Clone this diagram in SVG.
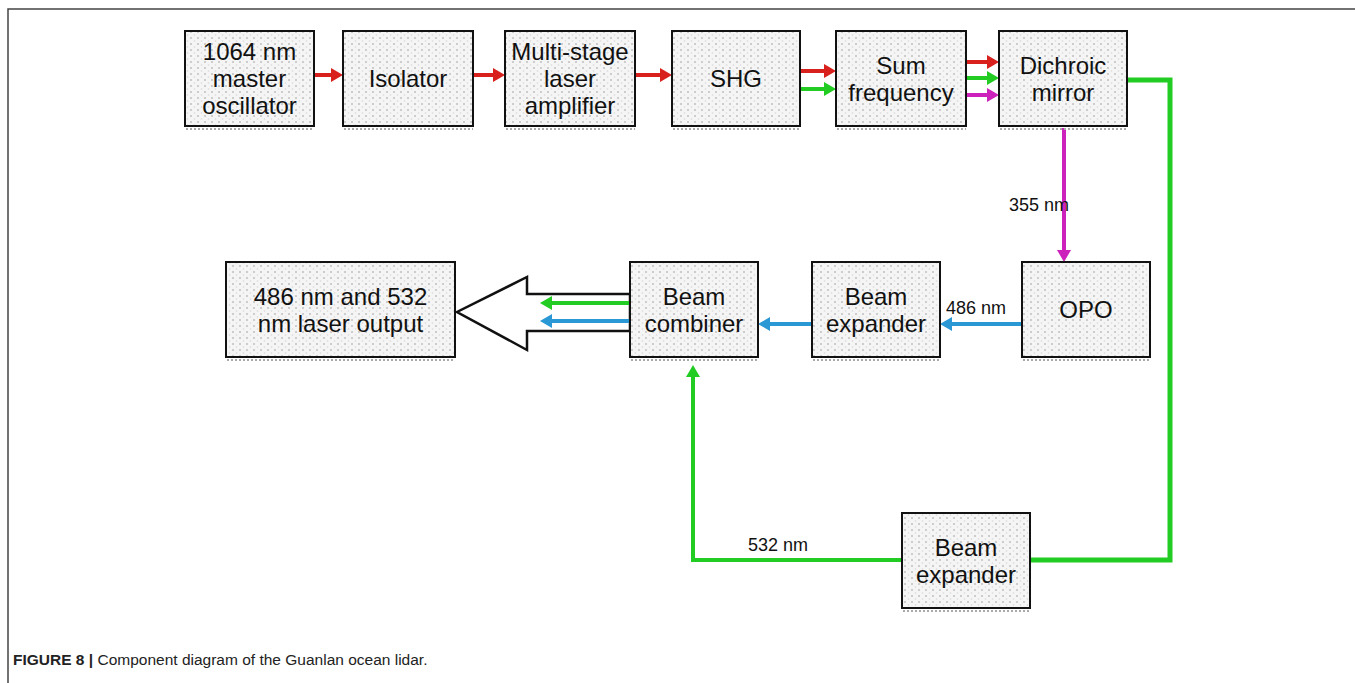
<svg xmlns="http://www.w3.org/2000/svg" width="1355" height="683" viewBox="0 0 1355 683">
<defs>
<pattern id="dots" width="7" height="6" patternUnits="userSpaceOnUse">
<rect width="7" height="6" fill="#f5f5f5"/>
<circle cx="2" cy="2" r="1.1" fill="#c4c4c4"/>
<circle cx="5.5" cy="5" r="0.8" fill="#d8d8d8"/>
</pattern>
<marker id="ar" markerUnits="userSpaceOnUse" markerWidth="12" markerHeight="14" refX="6" refY="7" orient="auto"><path d="M0,0 L12,7 L0,14 z" fill="#d8201c"/></marker>
<marker id="ag" markerUnits="userSpaceOnUse" markerWidth="12" markerHeight="14" refX="6" refY="7" orient="auto"><path d="M0,0 L12,7 L0,14 z" fill="#22cc22"/></marker>
<marker id="am" markerUnits="userSpaceOnUse" markerWidth="12" markerHeight="14" refX="6" refY="7" orient="auto"><path d="M0,0 L12,7 L0,14 z" fill="#cc22bb"/></marker>
<marker id="ab" markerUnits="userSpaceOnUse" markerWidth="12" markerHeight="14" refX="6" refY="7" orient="auto"><path d="M0,0 L12,7 L0,14 z" fill="#2a98d4"/></marker>
</defs>
<style>
.box{fill:url(#dots);stroke:#111;stroke-width:2}
.sh{stroke:#aaa;stroke-width:2;stroke-dasharray:2 2}
.t{font-family:"Liberation Sans",Arial,sans-serif;font-size:24px;fill:#111;text-anchor:middle}
.lb{font-family:"Liberation Sans",Arial,sans-serif;font-size:18px;fill:#111}
.r{stroke:#d8201c;stroke-width:4;fill:none;marker-end:url(#ar)}
.g{stroke:#22cc22;stroke-width:4;fill:none;marker-end:url(#ag)}
.gl{stroke:#22cc22;stroke-width:5;fill:none}
.m{stroke:#cc22bb;stroke-width:4;fill:none;marker-end:url(#am)}
.b{stroke:#2a98d4;stroke-width:4;fill:none;marker-end:url(#ab)}
</style>
<rect width="1355" height="683" fill="#fff"/>
<path d="M8,683 V9 H1355" fill="none" stroke="#444" stroke-width="1.5"/>

<g id="connectors">
<line class="r" x1="314" y1="75" x2="337" y2="75"/>
<line class="r" x1="473" y1="75" x2="499" y2="75"/>
<line class="r" x1="635" y1="75" x2="666" y2="75"/>
<line class="r" x1="800" y1="71" x2="830" y2="71"/>
<line class="g" x1="800" y1="89" x2="830" y2="89"/>
<line class="r" x1="966" y1="62" x2="993" y2="62"/>
<line class="g" x1="966" y1="78" x2="993" y2="78"/>
<line class="m" x1="966" y1="95" x2="993" y2="95"/>
<line class="m" x1="1064" y1="128" x2="1064" y2="256"/>
<path class="gl" d="M1127,80 H1170 V560 H1030"/>
<path class="g" d="M902,560 H693 V371"/>
<line class="b" x1="1022" y1="324" x2="946" y2="324"/>
<line class="b" x1="812" y1="324" x2="764" y2="324"/>
<polygon points="630,294 527,294 527,277 457,312 527,350 527,331 630,331" fill="#fff" stroke="#111" stroke-width="2.5" stroke-linejoin="miter"/>
<line class="g" x1="630" y1="303" x2="546" y2="303"/>
<line class="b" x1="630" y1="321" x2="546" y2="321"/>
<text class="lb" x="1009" y="211" font-size="17">355 nm</text>
<text class="lb" x="946" y="314">486 nm</text>
<text class="lb" x="748" y="551">532 nm</text>
</g>

<g id="n1"><rect class="box" x="185" y="31" width="129" height="95"/><line class="sh" x1="186" y1="129" x2="314" y2="129"/>
<text class="t"><tspan x="249.5" y="60">1064 nm</tspan><tspan x="249.5" y="87">master</tspan><tspan x="249.5" y="114">oscillator</tspan></text></g>
<g id="n2"><rect class="box" x="343" y="31" width="130" height="95"/><line class="sh" x1="344" y1="129" x2="473" y2="129"/>
<text class="t" x="408" y="87">Isolator</text></g>
<g id="n3"><rect class="box" x="505" y="31" width="130" height="95"/><line class="sh" x1="506" y1="129" x2="635" y2="129"/>
<text class="t"><tspan x="570" y="60">Multi-stage</tspan><tspan x="570" y="87">laser</tspan><tspan x="570" y="114">amplifier</tspan></text></g>
<g id="n4"><rect class="box" x="672" y="31" width="128" height="95"/><line class="sh" x1="673" y1="129" x2="800" y2="129"/>
<text class="t" x="736" y="87">SHG</text></g>
<g id="n5"><rect class="box" x="836" y="31" width="130" height="95"/><line class="sh" x1="837" y1="129" x2="966" y2="129"/>
<text class="t"><tspan x="901" y="74">Sum</tspan><tspan x="901" y="101">frequency</tspan></text></g>
<g id="n6"><rect class="box" x="999" y="31" width="128" height="95"/><line class="sh" x1="1000" y1="129" x2="1127" y2="129"/>
<text class="t"><tspan x="1063" y="74">Dichroic</tspan><tspan x="1063" y="101">mirror</tspan></text></g>
<g id="n7"><rect class="box" x="1022" y="262" width="128" height="95"/><line class="sh" x1="1023" y1="360" x2="1150" y2="360"/>
<text class="t" x="1086" y="318">OPO</text></g>
<g id="n8"><rect class="box" x="812" y="262" width="128" height="95"/><line class="sh" x1="813" y1="360" x2="940" y2="360"/>
<text class="t"><tspan x="876" y="305">Beam</tspan><tspan x="876" y="332">expander</tspan></text></g>
<g id="n9"><rect class="box" x="630" y="262" width="128" height="95"/><line class="sh" x1="631" y1="360" x2="758" y2="360"/>
<text class="t"><tspan x="694" y="305">Beam</tspan><tspan x="694" y="332">combiner</tspan></text></g>
<g id="n10"><rect class="box" x="226" y="262" width="229" height="95"/><line class="sh" x1="227" y1="360" x2="455" y2="360"/>
<text class="t" font-size="26px"><tspan x="340.5" y="305">486 nm and 532</tspan><tspan x="340.5" y="332">nm laser output</tspan></text></g>
<g id="n11"><rect class="box" x="902" y="513" width="128" height="95"/><line class="sh" x1="903" y1="611" x2="1030" y2="611"/>
<text class="t"><tspan x="966" y="556">Beam</tspan><tspan x="966" y="583">expander</tspan></text></g>

<text x="13" y="665" font-family="'Liberation Sans',Arial,sans-serif" font-size="15.5" fill="#222"><tspan font-weight="bold">FIGURE 8 |</tspan> Component diagram of the Guanlan ocean lidar.</text>
</svg>
